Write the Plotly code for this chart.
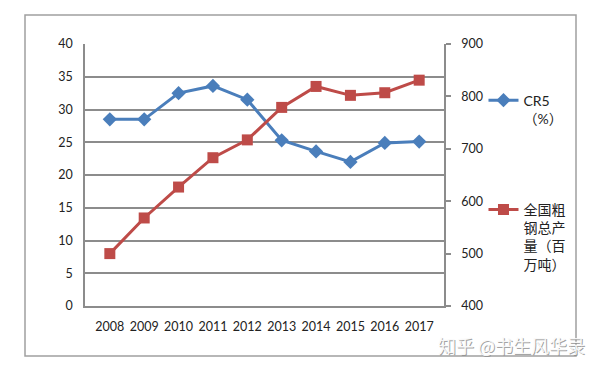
import plotly.graph_objects as go

years = ["2008", "2009", "2010", "2011", "2012", "2013", "2014", "2015", "2016", "2017"]
cr5 = [28.5, 28.5, 32.5, 33.6, 31.5, 25.3, 23.6, 22.0, 24.9, 25.1]
steel = [500, 568, 627, 683, 717, 779, 819, 802, 807, 831]

name_cr5 = "CR5<br>（%）"
name_steel = "全国粗<br>钢总产<br>量（百<br>万吨）"

left_ticks = [0, 5, 10, 15, 20, 25, 30, 35, 40]
right_ticks = [400, 500, 600, 700, 800, 900]

BLUE = "#4a7ebb"
RED = "#be4b48"
GRID = "#8c8c8c"
FONT = "Lato, 'Noto Sans CJK SC', sans-serif"
WM = "知乎 @书生风华录"

fig = go.Figure()
fig.add_trace(go.Scatter(
    x=years, y=cr5, name=name_cr5, mode="lines+markers",
    line=dict(color=BLUE, width=3),
    marker=dict(symbol="diamond", size=11, color=BLUE),
    legendgroup="a",
))
fig.add_trace(go.Scatter(
    x=years, y=steel, name=name_steel, mode="lines+markers",
    line=dict(color=RED, width=3),
    marker=dict(symbol="square", size=11, color=RED),
    yaxis="y2", legendgroup="b",
))

wm_font = dict(size=18, family="'Noto Sans CJK SC', sans-serif")
fig.update_layout(
    width=600, height=374,
    margin=dict(l=77, r=164, t=36, b=76),
    paper_bgcolor="white", plot_bgcolor="white",
    font=dict(family=FONT, size=12, color="#222"),
    xaxis=dict(
        type="category", showgrid=False, showline=True, linecolor=GRID, linewidth=1.5,
        ticks="", tickfont=dict(size=12.5), ticklabelstandoff=8,
    ),
    yaxis=dict(
        range=[0, 40], tickvals=left_ticks, showgrid=True, gridcolor=GRID, gridwidth=1.5,
        showline=True, linecolor=GRID, linewidth=1.5, zeroline=False,
        ticks="", ticklabelstandoff=8, tickfont=dict(size=12.5),
    ),
    yaxis2=dict(
        range=[400, 900], tickvals=right_ticks, overlaying="y", side="right",
        showgrid=False, showline=True, linecolor=GRID, linewidth=1.5, zeroline=False,
        ticks="outside", ticklen=5, tickcolor=GRID, tickwidth=1.5,
        ticklabelstandoff=8, tickfont=dict(size=12.5),
    ),
    legend=dict(
        x=1.11, xanchor="left", y=0.845, yanchor="top",
        font=dict(size=14, family=FONT), valign="top",
        tracegroupgap=70, bgcolor="rgba(0,0,0,0)", itemwidth=30,
    ),
    showlegend=True,
    shapes=[dict(
        type="rect", xref="paper", yref="paper",
        x0=-60 / 359, x1=491 / 359, y0=-50 / 262, y1=291 / 262,
        line=dict(color="#a0a0a0", width=1.5), fillcolor="rgba(0,0,0,0)", layer="below",
    )],
    annotations=[
        dict(text=WM, xref="paper", yref="paper", x=1.398, y=-39 / 262,
             xanchor="right", yanchor="middle", showarrow=False, xshift=1, yshift=-1,
             font=dict(color="rgba(140,140,140,0.8)", **wm_font)),
        dict(text=WM, xref="paper", yref="paper", x=1.398, y=-39 / 262,
             xanchor="right", yanchor="middle", showarrow=False,
             font=dict(color="rgba(250,250,250,0.95)", **wm_font)),
    ],
)

fig.write_html("out.html")
